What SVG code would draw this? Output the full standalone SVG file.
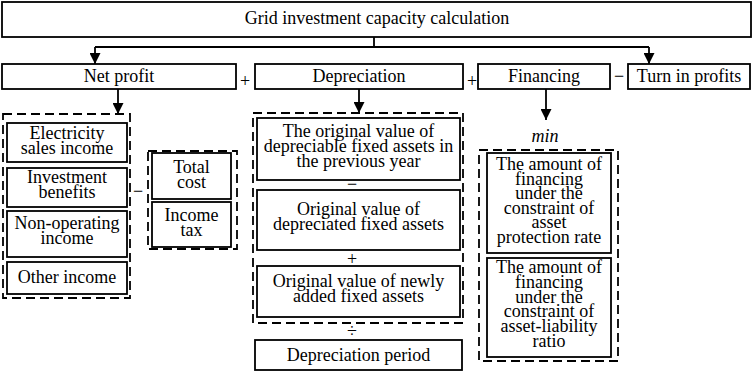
<svg xmlns="http://www.w3.org/2000/svg" width="754" height="372" viewBox="0 0 754 372">
<defs>
<style>
.box{fill:#fff;stroke:#000;stroke-width:1.8}
.dash{fill:none;stroke:#000;stroke-width:1.8;stroke-dasharray:9 5}
text{font-family:"Liberation Serif","Times New Roman",serif;font-size:18px;fill:#000;text-anchor:middle}
.op{font-size:18px}
.line{fill:none;stroke:#000;stroke-width:1.8}
</style>
<marker id="arr" viewBox="0 0 10 10" refX="10" refY="5" markerWidth="11" markerHeight="11" markerUnits="userSpaceOnUse" orient="auto">
<path d="M0,0 L10,5 L0,10 Z" fill="#000"/>
</marker>
</defs>
<rect width="754" height="372" fill="#fff"/>

<g id="connectors">
<path class="line" d="M374,37 V47 M95,47 H649"/>
<path class="line" d="M95,47 V64" marker-end="url(#arr)"/>
<path class="line" d="M649,47 V64" marker-end="url(#arr)"/>
<path class="line" d="M118,89 V114" marker-end="url(#arr)"/>
<path class="line" d="M359,89 V113" marker-end="url(#arr)"/>
<path class="line" d="M546,89 V120" marker-end="url(#arr)"/>
</g>

<g id="title">
<rect class="box" x="2" y="2" width="749" height="35"/>
<text x="377" y="24">Grid investment capacity calculation</text>
</g>

<g id="net-profit">
<rect class="box" x="2" y="64" width="234" height="25"/>
<text x="119" y="82">Net profit</text>
</g>
<text class="op" x="245" y="87">+</text>
<g id="depreciation">
<rect class="box" x="255" y="64" width="208" height="25"/>
<text x="359" y="82">Depreciation</text>
</g>
<text class="op" x="472" y="87">+</text>
<g id="financing">
<rect class="box" x="478" y="64" width="132" height="25"/>
<text x="544" y="82">Financing</text>
</g>
<text class="op" x="619" y="82">−</text>
<g id="turn-in-profits">
<rect class="box" x="628" y="64" width="122" height="25"/>
<text x="689" y="82">Turn in profits</text>
</g>

<g id="income-group">
<rect class="dash" x="3" y="114" width="127" height="184"/>
<g id="electricity-sales-income">
<rect class="box" x="7" y="123" width="120" height="39"/>
<text x="67" y="139">Electricity</text>
<text x="67" y="154">sales income</text>
</g>
<g id="investment-benefits">
<rect class="box" x="7" y="168" width="120" height="39"/>
<text x="67" y="183">Investment</text>
<text x="67" y="198">benefits</text>
</g>
<g id="non-operating-income">
<rect class="box" x="7" y="211" width="120" height="46"/>
<text x="67" y="229">Non-operating</text>
<text x="67" y="244">income</text>
</g>
<g id="other-income">
<rect class="box" x="7" y="262" width="120" height="32"/>
<text x="67" y="283">Other income</text>
</g>
</g>
<text class="op" x="138" y="197">−</text>
<g id="cost-group">
<rect class="dash" x="148" y="151" width="89" height="98"/>
<g id="total-cost">
<rect class="box" x="152" y="153" width="79" height="46"/>
<text x="191.5" y="173">Total</text>
<text x="191.5" y="188">cost</text>
</g>
<g id="income-tax">
<rect class="box" x="152" y="202" width="79" height="45"/>
<text x="191.5" y="221">Income</text>
<text x="191.5" y="236">tax</text>
</g>
</g>

<g id="depreciation-group">
<rect class="dash" x="253" y="113" width="210" height="210"/>
<g id="original-value-previous">
<rect class="box" x="257" y="118" width="203" height="62"/>
<text x="358.5" y="137">The original value of</text>
<text x="358.5" y="152">depreciable fixed assets in</text>
<text x="358.5" y="167">the previous year</text>
</g>
<text class="op" x="352" y="190">−</text>
<g id="original-value-depreciated">
<rect class="box" x="257" y="190" width="203" height="60"/>
<text x="358.5" y="215">Original value of</text>
<text x="358.5" y="230">depreciated fixed assets</text>
</g>
<text class="op" x="352" y="265">+</text>
<g id="original-value-new">
<rect class="box" x="257" y="266" width="203" height="51"/>
<text x="358.5" y="287">Original value of newly</text>
<text x="358.5" y="302">added fixed assets</text>
</g>
</g>
<text class="op" x="352" y="337">÷</text>
<g id="depreciation-period">
<rect class="box" x="255" y="340" width="207" height="30"/>
<text x="358.5" y="361">Depreciation period</text>
</g>

<text x="545" y="142" font-style="italic">min</text>
<g id="financing-group">
<rect class="dash" x="479" y="150" width="139" height="211"/>
<g id="financing-asset-protection">
<rect class="box" x="487" y="153" width="124" height="100"/>
<text x="549" y="170">The amount of</text>
<text x="549" y="184.5">financing</text>
<text x="549" y="199">under the</text>
<text x="549" y="213.5">constraint of</text>
<text x="549" y="228">asset</text>
<text x="549" y="242.5">protection rate</text>
</g>
<g id="financing-asset-liability">
<rect class="box" x="487" y="258" width="124" height="99"/>
<text x="549" y="273">The amount of</text>
<text x="549" y="287.8">financing</text>
<text x="549" y="302.6">under the</text>
<text x="549" y="317.4">constraint of</text>
<text x="549" y="332.2">asset-liability</text>
<text x="549" y="347">ratio</text>
</g>
</g>
</svg>
